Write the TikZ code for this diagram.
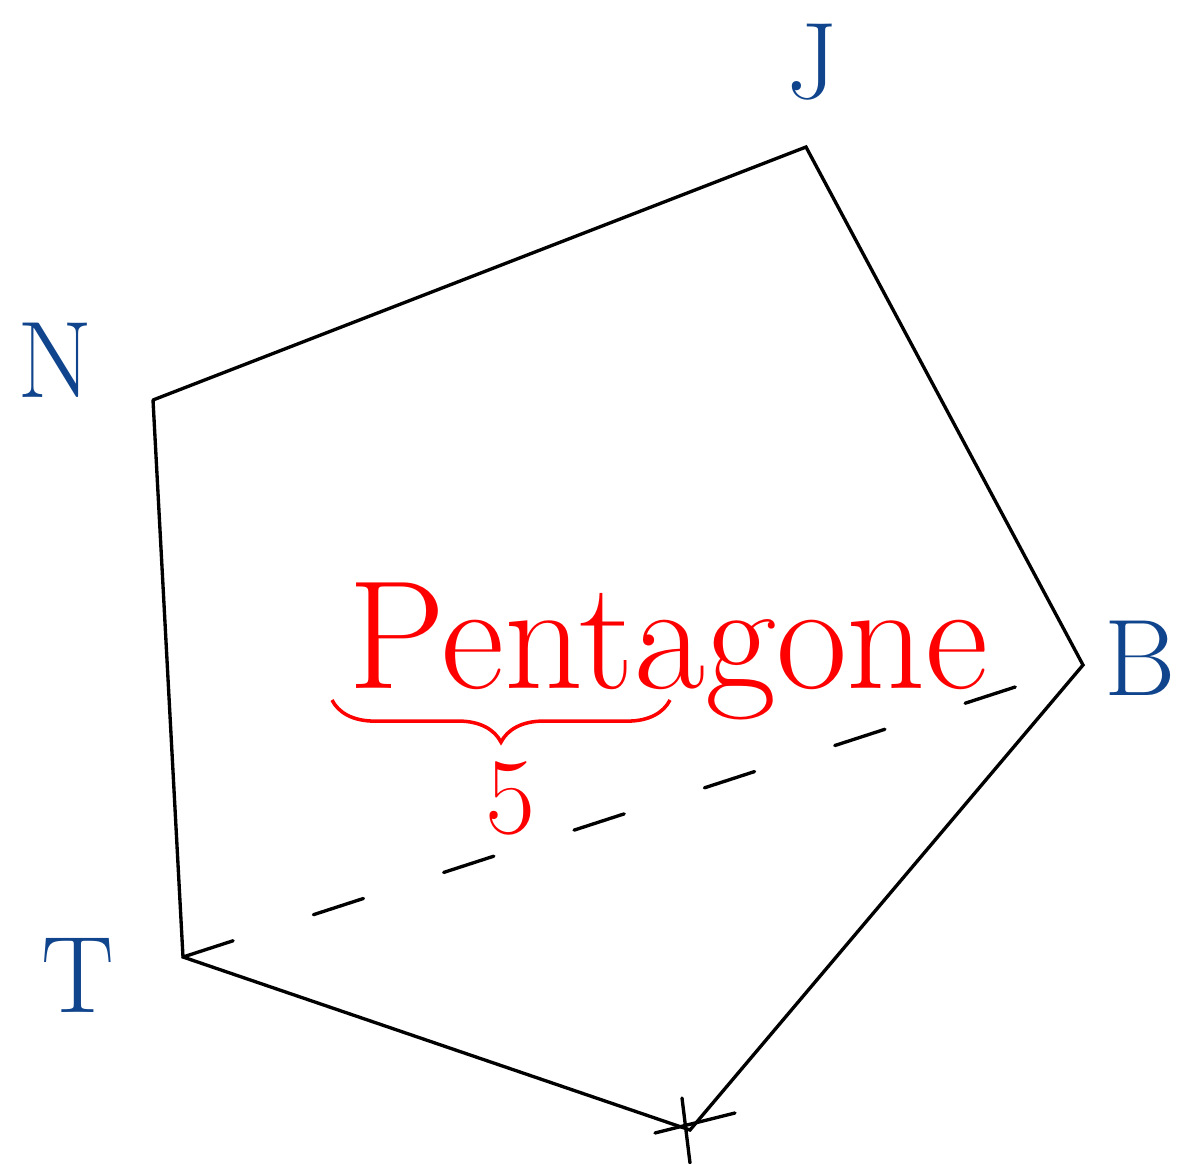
\documentclass[tikz,border=0pt]{standalone}
\usepackage{tikz}
\usetikzlibrary{decorations.pathreplacing}
\definecolor{penblue}{RGB}{16,68,140}

\begin{document}
\begin{tikzpicture}[
  x=0.02cm,y=-0.02cm,
  side/.style={draw=black,line width=1.9pt,line cap=round},
  diag/.style={side,dash pattern=on 30pt off 48pt},
  vlab/.style={text=penblue,font=\fontsize{62}{62}\selectfont,inner sep=0pt},
  redtxt/.style={text=red,inner sep=0pt}]

\useasboundingbox (0,0) rectangle (1186,1163);

% vertices
\coordinate (J) at (806,147);
\coordinate (B) at (1083,665);
\coordinate (K) at (690,1130);
\coordinate (T) at (183,957);
\coordinate (N) at (153,400);

% sides and diagonal
\draw[side] (N) -- (J) -- (B) -- (K) -- (T) -- (N);
\draw[diag] (T) -- (B);
\draw[side] (K) ++(-35,3) -- ++(80,-20);
\draw[side] (K) ++(-8,-32) -- ++(8,65);

% labels
\node[vlab] (lJ) at (812,62) {J};
\node[vlab] (lB) at (1140,658) {B};
\node[vlab] (lT) at (78,975) {T};
\node[vlab] (lN) at (55,360) {N};

% title
\node[redtxt,anchor=base west,font=\fontsize{88}{88}\selectfont] (title) at (348,688) {Pentagone};
\coordinate (brL) at (332,700);
\coordinate (brR) at (670,700);
\draw[red,line width=2pt,decorate,decoration={brace,mirror,amplitude=24pt}] (brL) -- (brR);
\node[redtxt,font=\fontsize{62}{62}\selectfont] (five) at (510,798) {5};

\end{tikzpicture}
\end{document}
